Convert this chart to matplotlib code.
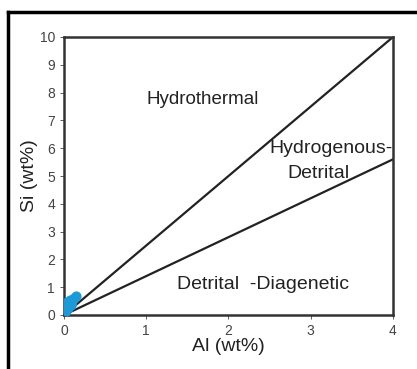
import matplotlib.pyplot as plt
from matplotlib.lines import Line2D

plt.rcParams['font.family'] = ['Liberation Sans', 'DejaVu Sans']

# sample points (Al, Si in wt%)
al = [0.03, 0.05, 0.08, 0.02, 0.10, 0.12, 0.15, 0.07, 0.04, 0.09]
si = [0.15, 0.25, 0.35, 0.30, 0.50, 0.60, 0.68, 0.55, 0.45, 0.40]

# boundary lines from origin
upper_end = (4, 10)
lower_end = (4, 5.6)

x_ticks = [0, 1, 2, 3, 4]
y_ticks = [0, 1, 2, 3, 4, 5, 6, 7, 8, 9, 10]

fig = plt.figure(figsize=(4.17, 3.69), dpi=100)
ax = fig.add_axes([64 / 417, 1 - 315 / 369, 329 / 417, 278 / 369])

ax.plot([0, upper_end[0]], [0, upper_end[1]], color='#222222', lw=1.6)
ax.plot([0, lower_end[0]], [0, lower_end[1]], color='#222222', lw=1.6)
ax.scatter(al, si, s=40, color='#1a9bd7', zorder=3)

ax.set_xlim(0, 4)
ax.set_ylim(0, 10)
ax.set_xticks(x_ticks)
ax.set_yticks(y_ticks)
ax.tick_params(colors='#444444', labelsize=10, length=3, width=0.6)
for s in ax.spines.values():
    s.set_color('#333333')
    s.set_linewidth(1.8)

ax.set_xlabel('Al (wt%)', fontsize=14, color='#222222', labelpad=0)
ax.set_ylabel('Si (wt%)', fontsize=14, color='#222222', labelpad=1)

ax.text(1.0, 7.75, 'Hydrothermal', fontsize=13.5, color='#222222', va='center')
ax.text(4.0, 6.0, 'Hydrogenous-', fontsize=14, color='#222222', va='center', ha='right')
ax.text(2.72, 5.1, 'Detrital', fontsize=14, color='#222222', va='center')
ax.text(1.37, 1.1, 'Detrital  -Diagenetic', fontsize=14, color='#222222', va='center')

# outer frame (left and top edges)
fig.add_artist(Line2D([8 / 417, 8 / 417], [0, 1 - 12 / 369], color='black', lw=2.5))
fig.add_artist(Line2D([8 / 417, 1], [1 - 12 / 369, 1 - 12 / 369], color='black', lw=2.5))

fig.savefig('out.png', dpi=100)
